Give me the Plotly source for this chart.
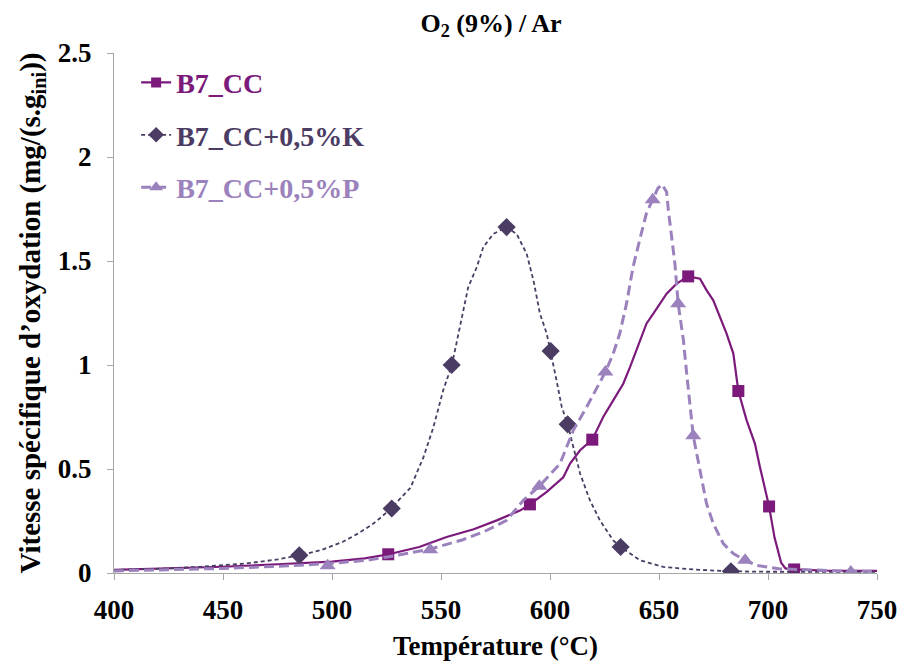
import plotly.graph_objects as go

# ---- data ----
series_names = ["B7_CC", "B7_CC+0,5%K", "B7_CC+0,5%P"]

cc_T = [400, 425, 450, 475, 500, 515, 526, 540, 552.6, 565, 575.6, 586.2, 590.8, 598.5, 606.1,
        609.2, 613.8, 619.4, 624.4, 629, 633.6, 636.7, 641.3, 644.3, 647.4, 653.5, 658.1, 663.4,
        668.8, 671.8, 674.9, 678, 681, 684.1, 686.4, 690.2, 694, 696.3, 700.5, 703, 706, 708,
        712, 725, 750]
cc_V = [0.015, 0.022, 0.03, 0.042, 0.055, 0.07, 0.09, 0.125, 0.173, 0.21, 0.253, 0.30, 0.33,
        0.39, 0.46, 0.526, 0.59, 0.641, 0.75, 0.83, 0.91, 0.99, 1.119, 1.2, 1.247, 1.343, 1.391,
        1.426, 1.415, 1.36, 1.311, 1.231, 1.151, 1.055, 0.875, 0.734, 0.622, 0.51, 0.32, 0.17,
        0.05, 0.022, 0.017, 0.012, 0.01]
cc_mark_T = [525.8, 590.8, 619.4, 663.4, 686.4, 700.5, 712]
cc_mark_V = [0.09, 0.33, 0.641, 1.426, 0.875, 0.32, 0.017]

k_T = [400, 420, 440, 460, 475, 485, 495, 505, 512, 518, 522, 527, 536, 542, 546.5, 551, 555,
       558.7, 562.5, 566.4, 569.4, 574, 580, 584.7, 589.3, 592.4, 595.4, 598.5, 600.3, 603,
       605.4, 608.1, 610.7, 613.8, 618.3, 622.9, 629, 632.4, 641.3, 652, 667, 683, 700, 720, 750]
k_V = [0.015, 0.02, 0.03, 0.045, 0.065, 0.085, 0.11, 0.15, 0.19, 0.23, 0.263, 0.31, 0.41, 0.558,
       0.70, 0.878, 1.0, 1.18, 1.375, 1.47, 1.567, 1.63, 1.663, 1.63, 1.535, 1.407, 1.247, 1.151,
       1.067, 0.926, 0.798, 0.715, 0.606, 0.478, 0.35, 0.253, 0.157, 0.125, 0.061, 0.029, 0.016,
       0.008, 0.006, 0.005, 0.005]
k_mark_T = [485, 527.4, 554.9, 580.1, 600.3, 608.1, 632.4, 683]
k_mark_V = [0.085, 0.31, 1.0, 1.663, 1.067, 0.715, 0.125, 0.008]

p_T = [400, 425, 450, 475, 498, 515, 526, 545, 560, 570, 580.1, 587.8, 595.1, 604.6, 610.7,
       616.8, 625.4, 629, 632, 635.1, 638.1, 641.1, 644.2, 647.1, 649.5, 651.4, 653.5, 654.3,
       655.8, 657.3, 658.8, 661.2, 662.7, 664.2, 665.7, 668.8, 671.8, 674.9, 679.5, 684.1,
       689.5, 694.8, 705, 720, 738, 750]
p_V = [0.01, 0.015, 0.022, 0.032, 0.045, 0.06, 0.078, 0.115, 0.16, 0.2, 0.253, 0.35, 0.417,
       0.526, 0.686, 0.798, 0.966, 1.055, 1.151, 1.295, 1.471, 1.6, 1.728, 1.795, 1.85, 1.868,
       1.832, 1.744, 1.615, 1.487, 1.295, 1.119, 0.959, 0.798, 0.66, 0.494, 0.334, 0.237, 0.141,
       0.093, 0.061, 0.037, 0.02, 0.015, 0.008, 0.008]
p_mark_T = [498, 545, 595.1, 625.4, 647.1, 658.8, 665.7, 689.5, 738]
p_mark_V = [0.035, 0.112, 0.417, 0.966, 1.795, 1.295, 0.66, 0.061, 0.005]

x_ticks = [400, 450, 500, 550, 600, 650, 700, 750]
x_tick_labels = ["400", "450", "500", "550", "600", "650", "700", "750"]
y_ticks = [0, 0.5, 1, 1.5, 2, 2.5]
y_tick_labels = ["0", "0.5", "1", "1.5", "2", "2.5"]

# ---- styles ----
C_CC = "#7b1a7b"
C_K = "#4b3c63"
C_P = "#9b82bd"
FONT = "Liberation Serif, Times New Roman, serif"

specs = [
    (series_names[0], cc_T, cc_V, cc_mark_T, cc_mark_V, C_CC, "solid", 2.2, "square", 12),
    (series_names[1], k_T, k_V, k_mark_T, k_mark_V, C_K, "4px,3px", 1.8, "diamond", 14),
    (series_names[2], p_T, p_V, p_mark_T, p_mark_V, C_P, "10px,5px", 3.0, "triangle-up", 14),
]

fig = go.Figure()
for i, (name, T, V, mT, mV, col, dash, lw, sym, ms) in enumerate(specs):
    grp = "g%d" % i
    fig.add_trace(go.Scatter(x=T, y=V, mode="lines", line=dict(color=col, dash=dash, width=lw),
                             showlegend=False, legendgroup=grp, hoverinfo="skip"))
    fig.add_trace(go.Scatter(x=mT, y=mV, mode="markers",
                             marker=dict(symbol=sym, size=ms, color=col, line=dict(width=0)),
                             showlegend=False, legendgroup=grp))
    fig.add_trace(go.Scatter(x=[None], y=[None], mode="lines+markers",
                             line=dict(color=col, dash=dash, width=lw),
                             marker=dict(symbol=sym, size=ms - 2, color=col),
                             name="<span style='color:%s'><b>%s</b></span>" % (col, name),
                             legendgroup=grp, showlegend=True))

axis_common = dict(
    showgrid=False, zeroline=False, showline=True, linecolor="#a6a6a6", linewidth=1,
    ticks="outside", ticklen=6, tickcolor="#a6a6a6", tickwidth=1, automargin=False,
    tickfont=dict(family=FONT, size=27, color="black", weight="bold"),
)

fig.update_layout(
    width=901, height=661,
    margin=dict(l=114, r=24, t=53, b=88),
    paper_bgcolor="white", plot_bgcolor="white",
    title=dict(text="<b>O<sub>2</sub> (9%) / Ar</b>", x=0.545, xanchor="center", y=0.966,
               yanchor="middle", automargin=False,
               font=dict(family=FONT, size=26, color="black", weight="bold")),
    xaxis=dict(range=[400, 750], tickvals=x_ticks,
               ticktext=["<b>%s</b>" % t for t in x_tick_labels], ticklabelstandoff=7,
               title=dict(text="<b>Température (°C)</b>", standoff=14,
                          font=dict(family=FONT, size=27, color="black", weight="bold")),
               **axis_common),
    yaxis=dict(range=[0, 2.5], tickvals=y_ticks,
               ticktext=["<b>%s</b>" % t for t in y_tick_labels], ticklabelstandoff=10,
               title=dict(text="<b>Vitesse spécifique d’oxydation (mg/(s.g<sub>ini</sub>))</b>",
                          standoff=8,
                          font=dict(family=FONT, size=29, color="black", weight="bold")),
               **axis_common),
    legend=dict(x=0.029, y=0.991, xanchor="left", yanchor="top", tracegroupgap=13,
                bgcolor="rgba(0,0,0,0)",
                font=dict(family=FONT, size=28, color="black", weight="bold")),
    showlegend=True,
)

fig.write_html("out.html", config={"displayModeBar": False},
               post_script="document.body.style.margin='0px';document.body.style.overflow='hidden';")
